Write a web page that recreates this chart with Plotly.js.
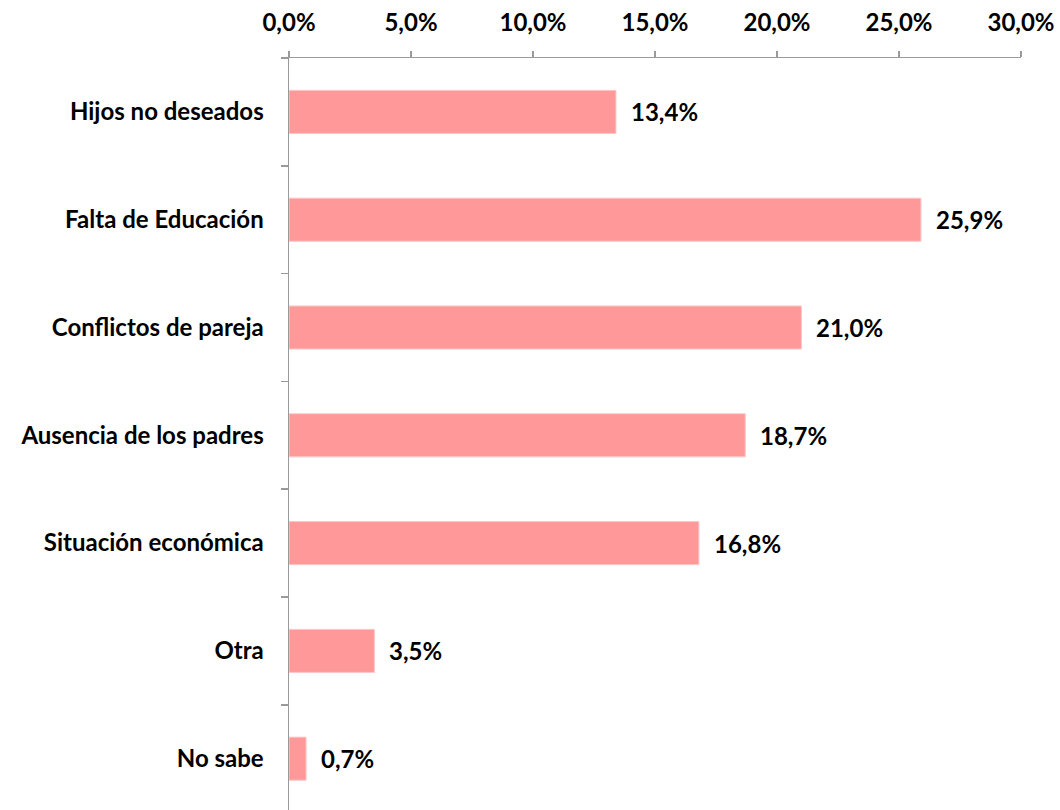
<!DOCTYPE html>
<html>
<head>
<meta charset="utf-8">
<script src="https://cdn.plot.ly/plotly-3.0.1.min.js"></script>
<style>html,body{margin:0;padding:0;background:#fff;}#chart{width:1060px;height:810px;}</style>
</head>
<body>
<div id="chart"></div>
<script>
const categories = ["Hijos no deseados","Falta de Educación","Conflictos de pareja","Ausencia de los padres","Situación económica","Otra","No sabe"];
const values = [13.4, 25.9, 21.0, 18.7, 16.8, 3.5, 0.7];
const tickValues = [0, 5, 10, 15, 20, 25, 30];
const tickLabels = ["0,0%", "5,0%", "10,0%", "15,0%", "20,0%", "25,0%", "30,0%"];

const FONT = "Lato, 'Open Sans', sans-serif";
const SIZE = 24;
const axisColor = "#9a9a9a";

const trace = {
  type: "bar",
  orientation: "h",
  y: categories,
  x: values,
  marker: {color: "#FF9999", line: {color: "#FFC8C8", width: 1}},
  hoverinfo: "skip"
};

const annotations = values.map((v, i) => ({
  x: v, y: categories[i], xref: "x", yref: "y",
  text: v.toFixed(1).replace(".", ",") + "%",
  showarrow: false, xanchor: "left", yanchor: "middle", xshift: 13,
  font: {family: FONT, size: SIZE, color: "#000", weight: 700}
}));

const layout = {
  width: 1060, height: 810,
  margin: {l: 289, r: 39, t: 58, b: 0},
  paper_bgcolor: "#fff", plot_bgcolor: "#fff",
  separators: ",.",
  showlegend: false,
  bargap: 0.6,
  font: {family: FONT, size: SIZE, color: "#000", weight: 700},
  xaxis: {
    side: "top",
    range: [0, 30],
    tickmode: "array",
    tickvals: tickValues,
    ticktext: tickLabels,
    showgrid: false, zeroline: false,
    showline: true, linecolor: axisColor, linewidth: 1.5,
    ticks: "outside", ticklen: 6, tickcolor: axisColor, tickwidth: 1.5,
    ticklabelstandoff: 10,
    tickfont: {family: FONT, size: SIZE, color: "#000", weight: 700}
  },
  yaxis: {
    type: "category",
    categoryorder: "array",
    categoryarray: categories,
    range: [6.476, -0.5],
    showgrid: false, zeroline: false,
    showline: true, linecolor: axisColor, linewidth: 1.5,
    ticks: "outside", tickson: "boundaries", ticklen: 7, tickcolor: axisColor, tickwidth: 1.5,
    ticklabelstandoff: 19,
    tickfont: {family: FONT, size: SIZE, color: "#000", weight: 700}
  },
  annotations: annotations
};

Plotly.newPlot("chart", [trace], layout, {staticPlot: true, displayModeBar: false});
</script>
</body>
</html>
